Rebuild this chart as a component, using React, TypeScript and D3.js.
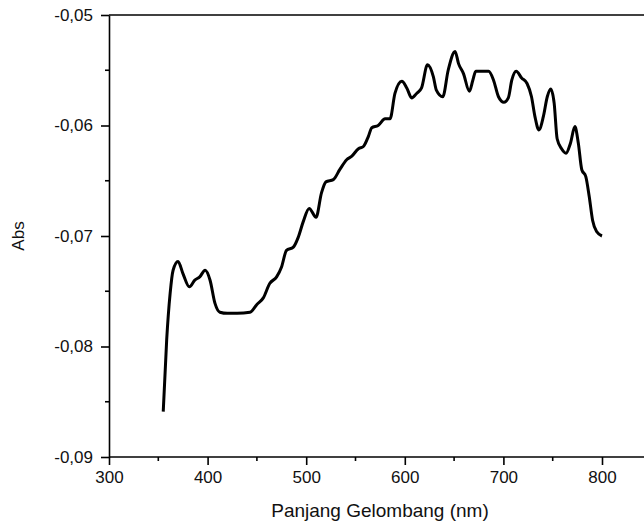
import React, { useRef, useEffect } from "react";
import * as d3 from "d3";

// absorbance spectrum
const wavelength = [
  355, 358.5, 362, 365, 370, 375, 381.5, 387, 392, 397.5, 402.5, 407.5, 412.5, 420, 430, 443,
  450, 456.5, 463, 470, 475, 480, 487, 492, 497, 503, 510, 515.5, 520, 527.5, 534, 541, 546,
  553, 558, 563, 566.5, 573, 580, 585, 590, 597, 602, 607, 612, 617, 623, 629, 632, 638.5, 644,
  651, 654.5, 659.5, 665.5, 669, 672, 676, 685, 690, 695, 700.5, 705, 708.5, 713, 718.5, 724,
  728.5, 732, 736, 740.5, 744.5, 748, 751.5, 754.5, 759, 763.5, 768, 772.5, 776, 779.5, 783.5,
  787, 790.5, 794.5, 800,
];
const absorbance = [
  -0.0859, -0.0794, -0.0752, -0.0731, -0.0723, -0.0734, -0.0746, -0.074, -0.0737, -0.0731,
  -0.074, -0.0761, -0.0769, -0.077, -0.077, -0.0769, -0.0762, -0.0756, -0.0743, -0.0737,
  -0.0728, -0.0713, -0.071, -0.0701, -0.0687, -0.0675, -0.0683, -0.0661, -0.0651, -0.0649,
  -0.064, -0.0631, -0.0628, -0.0621, -0.0619, -0.061, -0.0602, -0.06, -0.0594, -0.0594,
  -0.0571, -0.056, -0.0566, -0.0575, -0.0571, -0.0566, -0.0545, -0.0556, -0.0568, -0.0574,
  -0.055, -0.0533, -0.0544, -0.0553, -0.0569, -0.0559, -0.0551, -0.0551, -0.0551, -0.0559,
  -0.0574, -0.0579, -0.0575, -0.0559, -0.0551, -0.0557, -0.0562, -0.0574, -0.0592, -0.0604,
  -0.0592, -0.0574, -0.0567, -0.058, -0.0612, -0.0621, -0.0625, -0.0616, -0.0601, -0.0616,
  -0.064, -0.0646, -0.0664, -0.0686, -0.0696, -0.07,
];

const xTicks = [300, 400, 500, 600, 700, 800];
const xMinor = [350, 450, 550, 650, 750, 850];
const yTicks = [-0.09, -0.08, -0.07, -0.06, -0.05];
const yMinor = [-0.085, -0.075, -0.065, -0.055];

const xTitle = "Panjang Gelombang (nm)";
const yTitle = "Abs";

const W = 644;
const H = 526;
const FONT = "'Liberation Sans', Arial, sans-serif";

const fmt = d3.formatLocale({ decimal: ",", thousands: ".", grouping: [3], currency: ["", ""], minus: "-" }).format(".2f");

export default function App() {
  const svgRef = useRef<SVGSVGElement>(null);

  useEffect(() => {
    const svg = d3.select(svgRef.current);
    svg.selectAll("*").remove();

    const x = d3.scaleLinear().domain([300, 900]).range([109, 700.6]);
    const y = d3.scaleLinear().domain([-0.09, -0.05]).range([457, 15]);

    const g = svg.append("g");

    // frame top edge
    g.append("line")
      .attr("x1", x(300)).attr("x2", W + 10)
      .attr("y1", y(-0.05)).attr("y2", y(-0.05))
      .attr("stroke", "#000").attr("stroke-width", 1.6);

    // bottom axis
    const xAxis = d3.axisBottom(x).tickValues(xTicks).tickSize(8).tickPadding(6).tickSizeOuter(0)
      .tickFormat(d => String(d));
    const gx = g.append("g").attr("transform", `translate(0,${y(-0.09)})`).call(xAxis);
    gx.append("g").selectAll("line").data(xMinor).join("line")
      .attr("x1", d => x(d)).attr("x2", d => x(d)).attr("y1", 0).attr("y2", 4)
      .attr("stroke", "#000");

    // left axis
    const yAxis = d3.axisLeft(y).tickValues(yTicks).tickSize(8).tickPadding(8).tickSizeOuter(0)
      .tickFormat(d => fmt(d as number));
    const gy = g.append("g").attr("transform", `translate(${x(300)},0)`).call(yAxis);
    gy.append("g").selectAll("line").data(yMinor).join("line")
      .attr("x1", 0).attr("x2", -4).attr("y1", d => y(d)).attr("y2", d => y(d))
      .attr("stroke", "#000");

    [gx, gy].forEach(a => {
      a.select(".domain").attr("stroke", "#000").attr("stroke-width", 1.6);
      a.selectAll("line").attr("stroke-width", 1.6);
      a.selectAll("text").attr("font-family", FONT).attr("font-size", 17).attr("fill", "#111");
    });
    gx.select(".domain").attr("d", `M${x(300)},0H${W + 10}`);

    // spectrum
    const line = d3.line<number>()
      .x((d, i) => x(wavelength[i]))
      .y(d => y(d))
      .curve(d3.curveMonotoneX);
    g.append("path")
      .datum(absorbance)
      .attr("d", line)
      .attr("fill", "none")
      .attr("stroke", "#000")
      .attr("stroke-width", 3)
      .attr("stroke-linejoin", "round");

    // axis titles
    g.append("text")
      .attr("x", 380).attr("y", 517)
      .attr("text-anchor", "middle")
      .attr("font-family", FONT).attr("font-size", 19).attr("fill", "#111")
      .text(xTitle);
    g.append("text")
      .attr("transform", `translate(24,${y(-0.07)}) rotate(-90)`)
      .attr("text-anchor", "middle")
      .attr("font-family", FONT).attr("font-size", 17).attr("fill", "#111")
      .text(yTitle);
  }, []);

  return (
    <svg ref={svgRef} width={W} height={H}
      style={{ position: "absolute", left: 0, top: 0, background: "#fff" }} />
  );
}
